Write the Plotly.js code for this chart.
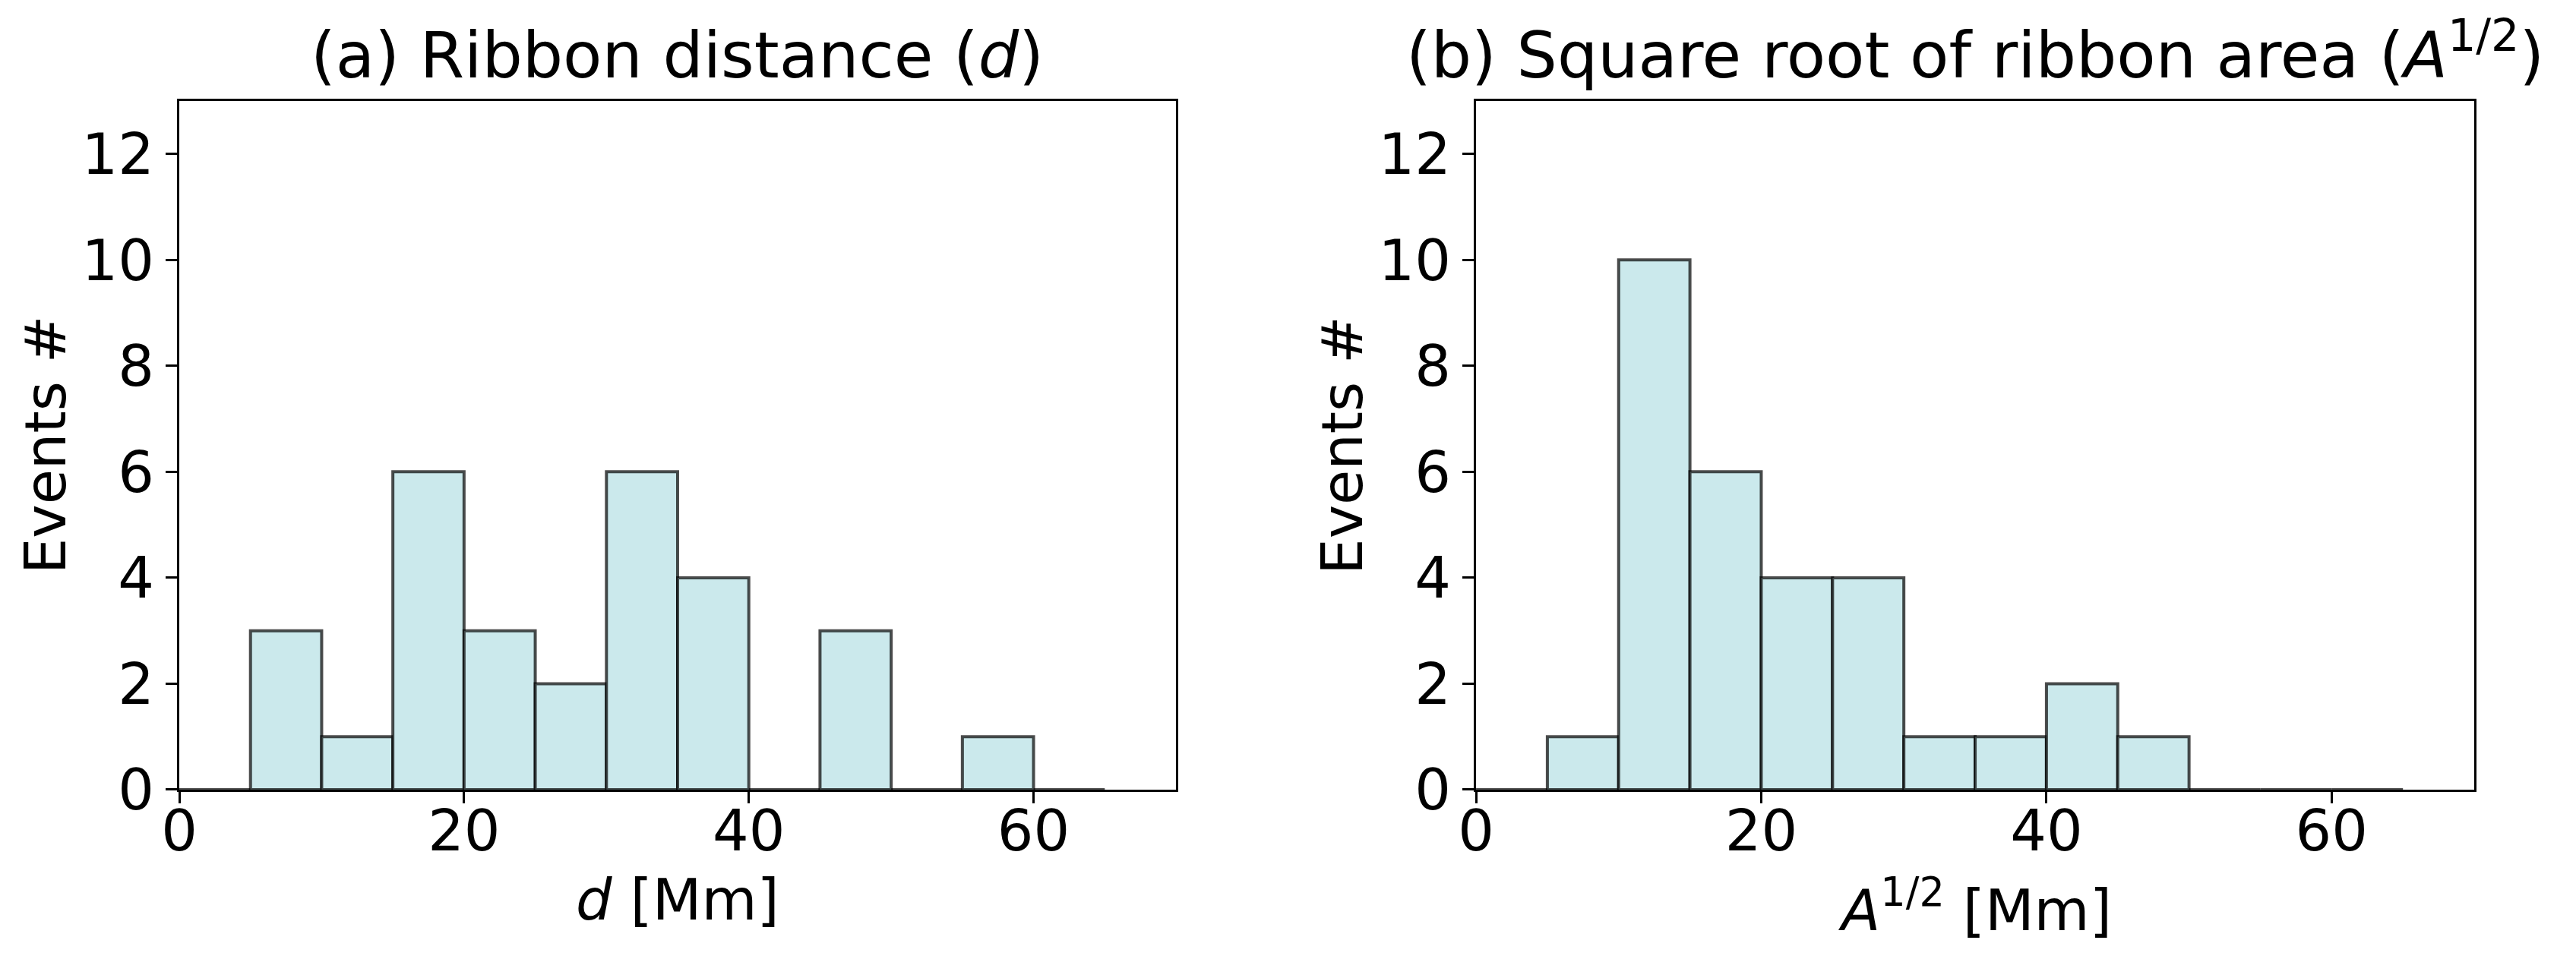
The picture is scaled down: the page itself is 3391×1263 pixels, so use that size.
<!DOCTYPE html>
<html>
<head>
<meta charset="utf-8">
<script src="https://cdn.plot.ly/plotly-3.0.1.min.js"></script>
<style>
  html, body { margin: 0; padding: 0; background: #fff; }
  #plot { width: 3391px; height: 1263px; }
</style>
</head>
<body>
<div id="plot"></div>
<script>
// bin left edges (Mm), bins are 5 Mm wide
var binStarts = [0, 5, 10, 15, 20, 25, 30, 35, 40, 45, 50, 55, 60];
var binWidth = 5;

// (a) ribbon distance d
var countsDistance = [0, 3, 1, 6, 3, 2, 6, 4, 0, 3, 0, 1, 0];
// (b) square root of ribbon area
var countsArea = [0, 1, 10, 6, 4, 4, 1, 1, 2, 1, 0, 0, 0];

var yTicks = [0, 2, 4, 6, 8, 10, 12];
var xTicks = [0, 20, 40, 60];

var binCenters = binStarts.map(b => b + binWidth / 2);

var barStyle = {
    color: "#cbe9ec",
    line: { color: "rgba(0,0,0,0.7)", width: 4 }
};

var trace1 = {
    x: binCenters,
    y: countsDistance,
    width: binWidth,
    type: "bar",
    marker: barStyle,
    xaxis: "x",
    yaxis: "y"
};

var trace2 = {
    x: binCenters,
    y: countsArea,
    width: binWidth,
    type: "bar",
    marker: barStyle,
    xaxis: "x2",
    yaxis: "y2"
};

var font = { family: "DejaVu Sans", size: 75, color: "#000" };

function xAxis(domain, anchor) {
    return {
        domain: domain, anchor: anchor,
        range: [0, 70], tickvals: xTicks,
        showline: true, mirror: true, linecolor: "#000", linewidth: 3,
        ticks: "outside", ticklen: 15, tickwidth: 3, tickcolor: "#000",
        ticklabelstandoff: -28,
        showgrid: false, zeroline: false,
        tickfont: font
    };
}
function yAxis(anchor) {
    return {
        domain: [0.1766, 0.8947], anchor: anchor,
        range: [0, 13], tickvals: yTicks,
        showline: true, mirror: true, linecolor: "#000", linewidth: 3,
        ticks: "outside", ticklen: 15, tickwidth: 3, tickcolor: "#000",
        showgrid: false, zeroline: false,
        tickfont: font
    };
}

function label(text, x, y, opts) {
    return Object.assign({
        text: text, x: x, y: y, xref: "paper", yref: "paper",
        showarrow: false, font: font, xanchor: "center", yanchor: "middle"
    }, opts || {});
}

var titleFont = Object.assign({}, font, { size: 84 });

var layout = {
    width: 3391, height: 1263,
    margin: { l: 0, r: 0, t: 0, b: 0 },
    paper_bgcolor: "#fff", plot_bgcolor: "#fff",
    showlegend: false,
    bargap: 0,
    xaxis: xAxis([0.0696, 0.4565], "y"),
    yaxis: yAxis("x"),
    xaxis2: xAxis([0.5730, 0.9605], "y2"),
    yaxis2: yAxis("x2"),
    annotations: [
        label("(a) Ribbon distance (<i>d</i>)", 0.2630, 0.902,
              { yanchor: "bottom", font: titleFont }),
        label("(b) Square root of ribbon area (<i>A</i><sup>1/2</sup>)", 0.7667, 0.902,
              { yanchor: "bottom", font: titleFont }),
        label("<i>d</i> [Mm]", 0.2630, 0.062),
        label("<i>A</i><sup>1/2</sup> [Mm]", 0.7667, 0.055),
        label("Events #", 0.0177, 0.536, { textangle: -90 }),
        label("Events #", 0.5210, 0.536, { textangle: -90 })
    ]
};

Plotly.newPlot("plot", [trace1, trace2], layout, { staticPlot: true });
</script>
</body>
</html>
